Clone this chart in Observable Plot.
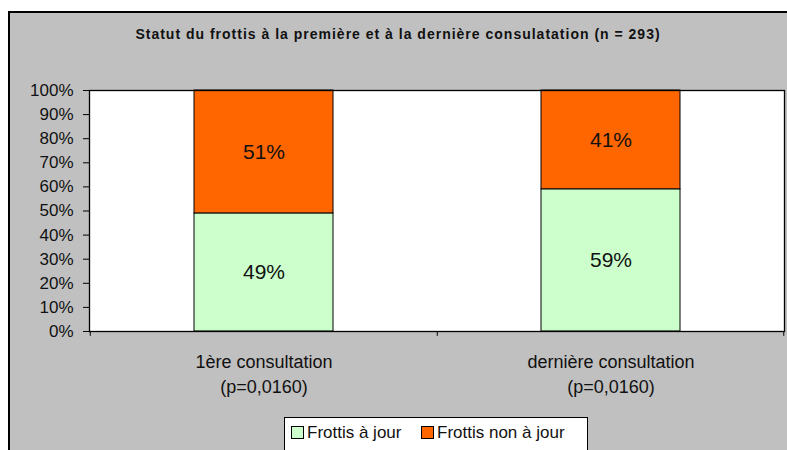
<!DOCTYPE html>
<html><head><meta charset="utf-8">
<script src="https://cdn.jsdelivr.net/npm/d3@7"></script>
<script src="https://cdn.jsdelivr.net/npm/@observablehq/plot@0.6"></script>
<style>
html,body{margin:0;padding:0;background:#fff;}
#wrap{position:relative;width:787px;height:450px;overflow:hidden;font-family:"Liberation Sans",Arial,sans-serif;}
#bg{position:absolute;left:8px;top:11px;width:790px;height:450px;background:#c0c0c0;border-top:2px solid #000;border-left:2px solid #000;}
#title{position:absolute;left:9px;width:778px;top:26px;text-align:center;font-weight:bold;font-size:14px;letter-spacing:1px;color:#111;}
#chart{position:absolute;left:0;top:0;}
#legend{position:absolute;left:284px;top:417px;width:302px;height:40px;background:#fff;border:1px solid #000;font-size:17px;color:#111;}
#legend .item{position:absolute;top:5px;white-space:nowrap;}
#legend .sw{display:inline-block;width:11px;height:11px;border:1px solid #000;margin-right:3px;vertical-align:-1px;}
</style>
</head><body>
<div id="wrap">
  <div id="bg"></div>
  <div id="title">Statut du frottis à la première et à la dernière consulatation (n = 293)</div>
  <div id="chart"></div>
  <div id="legend"></div>
</div>
<script>
const categories = ["1ère consultation\n(p=0,0160)", "dernière consultation\n(p=0,0160)"];
const seriesNames = ["Frottis à jour", "Frottis non à jour"];
const aJour = [49, 59];
const nonAJour = [51, 41];
const seriesColors = ["#CCFFCC", "#FF6600"];
const yTicks = [0, 10, 20, 30, 40, 50, 60, 70, 80, 90, 100];

const rows = [];
categories.forEach((c, i) => {
  rows.push({cat: c, serie: seriesNames[0], value: aJour[i]});
  rows.push({cat: c, serie: seriesNames[1], value: nonAJour[i]});
});

const W = 787, H = 450;
const mL = 89, mR = 3, mT = 90, mB = 119;
const step = (W - mL - mR) / categories.length;

const plot = Plot.plot({
  width: W, height: H,
  marginLeft: mL, marginRight: mR, marginTop: mT, marginBottom: mB,
  style: {background: "transparent", fontFamily: "Liberation Sans, Arial, sans-serif", color: "#111"},
  x: {domain: categories, paddingInner: 0.6, paddingOuter: 0.3, label: null},
  y: {domain: [0, 100], label: null},
  color: {domain: seriesNames, range: seriesColors},
  marks: [
    Plot.frame({fill: "white"}),
    Plot.barY(rows, Plot.stackY({x: "cat", y: "value", fill: "serie", stroke: "#000", strokeWidth: 1, inset: 0})),
    Plot.text(rows, Plot.stackY({x: "cat", y: "value", text: d => d.value + "%", fontSize: 21, fill: "#111"})),
    Plot.axisY({ticks: yTicks, tickFormat: d => d + "%", tickSize: 6, tickPadding: 10, fontSize: 17, stroke: "#000"}),
    Plot.axisX({tickSize: 0, tickPadding: 18, fontSize: 18, lineHeight: 1.42}),
    Plot.ruleX(categories, {x: d => d, dx: -step / 2, y1: 0, y2: -2, stroke: "#000"}),
    Plot.ruleX(categories.slice(-1), {x: d => d, dx: step / 2 - 1, y1: 0, y2: -2, stroke: "#000"}),
    Plot.frame({stroke: "#000", strokeWidth: 1.3})
  ]
});
document.getElementById("chart").appendChild(plot);

const leg = document.getElementById("legend");
const lefts = [6, 136];
seriesNames.forEach((s, i) => {
  const d = document.createElement("div");
  d.className = "item";
  d.style.left = lefts[i] + "px";
  d.innerHTML = `<span class="sw" style="background:${seriesColors[i]}"></span>${s}`;
  leg.appendChild(d);
});
</script>
</body></html>
